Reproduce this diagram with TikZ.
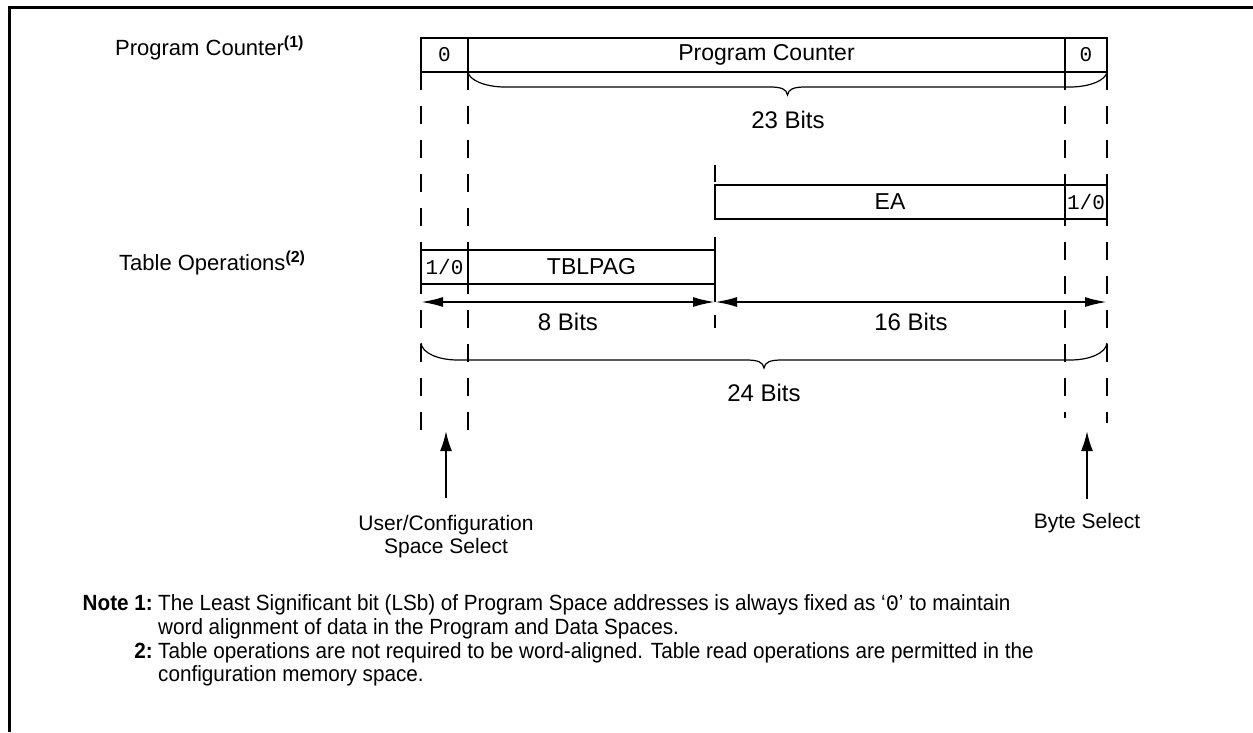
\documentclass[tikz,border=0pt]{standalone}
\usepackage{fontspec}
\setmainfont{Liberation Sans}
\setmonofont{Liberation Mono}
\newfontfamily\notefont[Ligatures=TeX, FakeStretch=0.94]{Liberation Sans}
\usetikzlibrary{arrows.meta, positioning}

% curly brace under a field: x left, x right, y top, y of the bar
\newcommand{\bitbrace}[4]{%
  \draw[bracepen] (#1,#3) .. controls (#1+1,#4-7) and (#1+17,#4) .. (#1+37,#4)
    -- ({(#1+#2)/2-18},#4) .. controls ({(#1+#2)/2-6},#4) and ({(#1+#2)/2-1},#4+2) .. ({(#1+#2)/2},#4+8)
    .. controls ({(#1+#2)/2+1},#4+2) and ({(#1+#2)/2+6},#4) .. ({(#1+#2)/2+18},#4)
    -- (#2-37,#4) .. controls (#2-17,#4) and (#2-1,#4-7) .. (#2,#3);}

\tikzset{
  cell/.style={draw, line width=2pt, minimum height=34pt, inner sep=0pt, outer sep=0pt,
    font=\fontsize{23}{26}\selectfont},
  bitcell/.style={cell, font=\ttfamily\fontsize{21}{24}\selectfont},
  guide/.style={line width=2pt, dash pattern=on 18pt off 16pt},
  bracepen/.style={line width=1.2pt},
  dimarrow/.style={line width=2pt, {Latex[length=22pt,width=10pt]}-{Latex[length=22pt,width=10pt]}},
  selarrow/.style={line width=2pt, -{Latex[length=20pt,width=12pt]}},
  lbl/.style={inner sep=0pt, font=\fontsize{21}{24}\selectfont},
  rowlbl/.style={inner sep=0pt, anchor=base west, font=\fontsize{22}{26}\selectfont},
  bitslbl/.style={inner sep=0pt, font=\fontsize{24}{28}\selectfont},
  notelbl/.style={inner sep=0pt, anchor=base west, font=\notefont\fontsize{22}{26}\selectfont},
  notenum/.style={inner sep=0pt, anchor=base east, font=\notefont\bfseries\fontsize{22}{26}\selectfont},
}
\newcommand{\refmark}[1]{\raisebox{8pt}{\fontsize{16}{16}\selectfont\bfseries(#1)}}

\begin{document}
\begin{tikzpicture}[x=1pt,y=-1pt]
    \useasboundingbox (0,0) rectangle (1253,732);
    \draw[line width=3pt] (1253,7) -- (9,7) -- (9,732);

    % dashed guides
    \draw[guide] (421,72) -- (421,436);
    \draw[guide] (468,72) -- (468,434);
    \draw[guide] (1065,72) -- (1065,418);
    \draw[guide] (1107,72) -- (1107,423);
    \draw[guide] (715,165) -- (715,182);
    \draw[line width=2pt] (715,237) -- (715,302);
    \draw[guide] (715,315) -- (715,328);

    % program counter
    \node[rowlbl] (pclbl) at (115,55) {Program Counter\refmark{1}};
    \node[bitcell, minimum width=47pt, fill=white] (pc0) at (444.5,55) {0};
    \node[cell, minimum width=597pt, fill=white, right=0pt of pc0] (pc) {Program Counter};
    \node[bitcell, minimum width=42pt, fill=white, right=0pt of pc] (pc1) {0};
    \bitbrace{468}{1107}{72}{87}
    \node[bitslbl] (bits23) at (788,120) {23 Bits};

    % effective address
    \node[cell, minimum width=350pt, fill=white] (ea) at (890,202) {EA};
    \node[bitcell, minimum width=42pt, fill=white, right=0pt of ea] (ea1) {1/0};

    % table operations
    \node[rowlbl] (tbllbl) at (119,270) {Table Operations\refmark{2}};
    \node[bitcell, minimum width=47pt, fill=white] (tb0) at (444.5,266.5) {1/0};
    \node[cell, minimum width=247pt, fill=white, right=0pt of tb0] (tblpag) {TBLPAG};

    \coordinate (dl) at (421,302);
    \coordinate (dm) at (715,302);
    \coordinate (dr) at (1107,302);
    \draw[dimarrow] (dl) -- (dm);
    \draw[dimarrow] (dm) -- (dr);
    \node[bitslbl] (bits8) at (568,322) {8 Bits};
    \node[bitslbl] (bits16) at (911,322) {16 Bits};
    \bitbrace{421}{1107}{343}{360}
    \node[bitslbl] (bits24) at (764,393) {24 Bits};

    % selects
    \coordinate (useltip) at (446,431);
    \coordinate (bseltip) at (1087,431);
    \node[lbl, align=center, font=\fontsize{21}{23.5}\selectfont, anchor=north] (usel) at (446,515) {User/Configuration\\Space Select};
    \node[lbl, anchor=north] (bsel) at (1087,513) {Byte Select};
    \draw[selarrow] ([yshift=17pt]usel.north) -- (useltip);
    \draw[selarrow] ([yshift=14pt]bsel.north) -- (bseltip);

    % notes
    \node[notenum] (note1) at (153,610) {Note\ 1:};
    \node[notenum] (note2) at (153,658) {2:};
    \node[notelbl] (n1a) at (158,610) {The Least Significant bit (LSb) of Program Space addresses is always fixed as `\texttt{0}' to maintain};
    \node[notelbl] (n1b) at (158,634) {word alignment of data in the Program and Data Spaces.};
    \node[notelbl] (n2a) at (158,658) {Table operations are not required to be word-aligned. Table read operations are permitted in the};
    \node[notelbl] (n2b) at (158,681) {configuration memory space.};
\end{tikzpicture}
\end{document}
